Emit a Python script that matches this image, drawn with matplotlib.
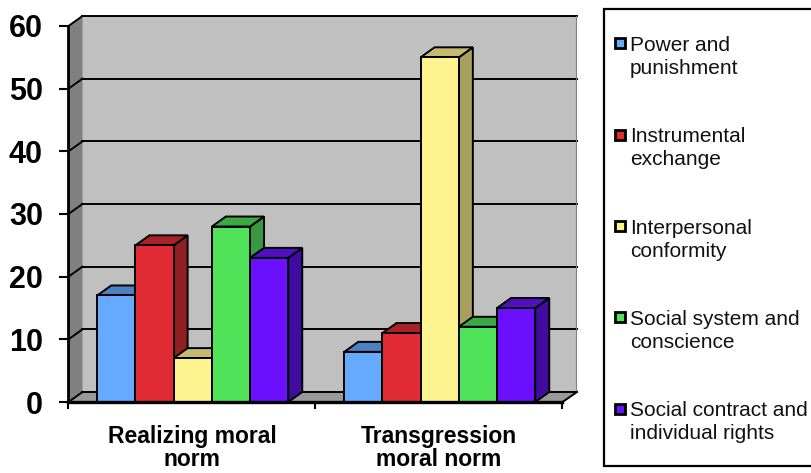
# -*- coding: utf-8 -*-
"""
Moral norm stages, fake 3D column chart
"""

import matplotlib
matplotlib.use('Agg')
import matplotlib.pyplot as plt
from matplotlib.patches import Polygon, Rectangle

plt.rcParams['font.family'] = ['Liberation Sans', 'DejaVu Sans']

categories = ['Realizing moral\nnorm', 'Transgression\nmoral norm']
stages = ['Power and\npunishment', 'Instrumental\nexchange', 'Interpersonal\nconformity',
          'Social system and\nconscience', 'Social contract and\nindividual rights']
power = [17, 8]
instrumental = [25, 11]
interpersonal = [7, 55]
social_system = [28, 12]
social_contract = [23, 15]
yticks = [0, 10, 20, 30, 40, 50, 60]

series = [power, instrumental, interpersonal, social_system, social_contract]
front_colors = ['#66AAFF', '#E02B35', '#FFF38F', '#50E35A', '#6A10FF']
top_colors = ['#4C80C0', '#A82228', '#C4BB70', '#3CAA44', '#5010C0']
side_colors = ['#3F6A9F', '#8F1F22', '#A8A060', '#38983F', '#400CA0']

W, H = 812, 473
PX_X = 247.0  # pixels per category
PX_Y = 6.267  # pixels per unit
DX = 14 / PX_X
DY = 10 / PX_Y
BAR_W = 38.2 / PX_X


def draw_bar(ax, x, value, i, z):
    kw = dict(edgecolor='black', linewidth=1.4, joinstyle='miter', zorder=z)
    ax.add_patch(Polygon([(x + BAR_W, 0), (x + BAR_W + DX, DY), (x + BAR_W + DX, value + DY), (x + BAR_W, value)],
                         facecolor=side_colors[i], **kw))
    ax.add_patch(Polygon([(x, value), (x + DX, value + DY), (x + BAR_W + DX, value + DY), (x + BAR_W, value)],
                         facecolor=top_colors[i], **kw))
    ax.add_patch(Rectangle((x, 0), BAR_W, value, facecolor=front_colors[i], **kw))


def draw_walls(ax, xmax, ymax):
    ax.add_patch(Polygon([(DX, DY), (xmax, DY), (xmax, ymax), (DX, ymax)], facecolor='#C0C0C0', edgecolor='none', zorder=1))
    ax.add_patch(Polygon([(0, 0), (DX, DY), (DX, ymax), (0, 60)], facecolor='#808080', edgecolor='none', zorder=1))
    ax.add_patch(Polygon([(0, 0), (DX, DY), (xmax, DY), (2, 0)], facecolor='#999999', edgecolor='none', zorder=1))
    for v in yticks:
        ax.plot([0, DX], [v, v + DY], color='black', linewidth=1.4, zorder=2, clip_on=False)
        ax.plot([DX, xmax], [v + DY, v + DY], color='black', linewidth=1.4, zorder=2, clip_on=False)
    ax.plot([xmax, xmax], [DY, ymax], color='#808080', linewidth=1.5, zorder=2)
    ax.plot([2, xmax], [0, DY], color='black', linewidth=1.4, zorder=2, clip_on=False)


def draw_legend(fig):
    lax = fig.add_axes([0, 0, 1, 1], facecolor='none')
    lax.set_xlim(0, W)
    lax.set_ylim(H, 0)
    lax.axis('off')
    lax.add_patch(Rectangle((604, 9.5), 220, 456, facecolor='white', edgecolor='black', linewidth=1.6))
    for i, label in enumerate(stages):
        y = 44 + i * 91.3
        lax.add_patch(Rectangle((615.5, y - 5.5), 10, 10, facecolor=front_colors[i], edgecolor='black', linewidth=2))
        lax.text(630, y + 13, label, fontsize=15, ha='left', va='center', linespacing=1.28, color='#111111')


fig = plt.figure(figsize=(W / 100, H / 100), dpi=100, facecolor='white')
left, right, bottom, top = 68.5, 577, 402, 16
ax = fig.add_axes([left / W, 1 - bottom / H, (right - left) / W, (bottom - top) / H])
xmax = (right - left) / PX_X
ymax = (bottom - top) / PX_Y
ax.set_xlim(0, xmax)
ax.set_ylim(0, ymax)
ax.patch.set_visible(False)

draw_walls(ax, xmax, ymax)

for c in range(len(categories)):
    x0 = c + 0.503 - BAR_W * len(series) / 2
    for i, values in enumerate(series):
        draw_bar(ax, x0 + i * BAR_W, values[c], i, 3 + i)

for name in ['top', 'right']:
    ax.spines[name].set_visible(False)
ax.spines['left'].set_bounds(0, 60)
ax.spines['bottom'].set_bounds(0, 2)
ax.spines['left'].set_linewidth(2)
ax.spines['bottom'].set_linewidth(2.4)
ax.spines['left'].set_zorder(10)
ax.spines['bottom'].set_zorder(10)

ax.set_yticks(yticks)
ax.set_yticklabels([str(v) for v in yticks], fontsize=22, fontweight='bold')
ax.tick_params(axis='y', length=6.5, width=1.5, pad=12)
ax.set_xticks([0, 1, 2])
ax.set_xticklabels([])
ax.tick_params(axis='x', length=5, width=1.5)

for c, label in enumerate(categories):
    ax.text(c + 0.5, -3.6, label, fontsize=16.5, fontweight='bold', ha='center', va='top', linespacing=1.05, clip_on=False)

draw_legend(fig)

plt.savefig('out.png', dpi=100, facecolor='white')
plt.close()
